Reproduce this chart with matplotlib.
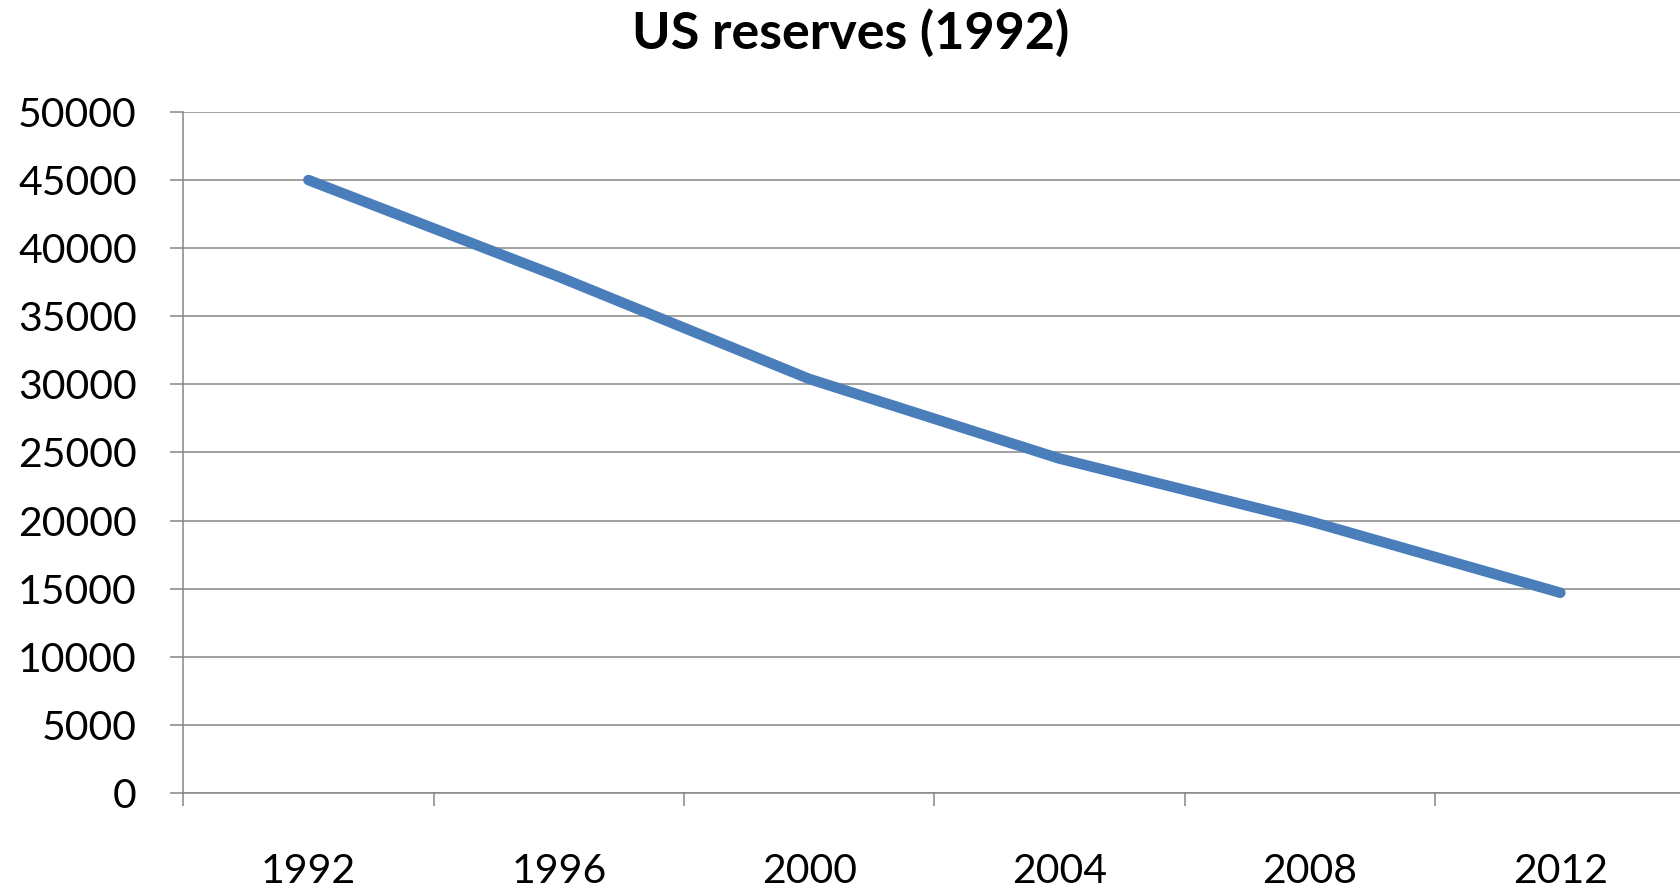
import numpy as np
import matplotlib
matplotlib.use('Agg')
import matplotlib.pyplot as plt
from matplotlib.ticker import FixedLocator

plt.rcParams['font.family'] = ['Lato', 'DejaVu Sans']

years = ['1992', '1996', '2000', '2004', '2008', '2012']
reserves = [45000, 37900, 30400, 24550, 19950, 14700]
yticks = [0, 5000, 10000, 15000, 20000, 25000, 30000, 35000, 40000, 45000, 50000]

GRID = '#868686'
BLUE = '#4a7ebb'

fig = plt.figure(figsize=(16.81, 8.90), dpi=100)
ax = fig.add_axes([0.1090, 0.1090, 0.8937, 0.7652])

x = np.arange(len(years))
ax.plot(x, reserves, color=BLUE, lw=7.6, solid_capstyle='round',
        solid_joinstyle='round', zorder=3)

ax.set_xlim(-0.5, len(years) - 0.5)
ax.set_ylim(0, 50000)

# y axis: gray gridlines and outward ticks
ax.set_yticks(yticks)
ax.set_yticklabels([str(v) for v in yticks], fontsize=29.5)
ax.yaxis.grid(True, color=GRID, lw=1.1)
ax.tick_params(axis='y', length=9.4, width=1.1, color=GRID, pad=24)

# x axis: labels at category centres, ticks on category borders
ax.set_xticks(x)
ax.set_xticklabels(years, fontsize=29.5)
ax.tick_params(axis='x', which='major', length=0, pad=43)
ax.xaxis.set_minor_locator(FixedLocator(np.arange(-0.5, len(years), 1.0)))
ax.tick_params(axis='x', which='minor', length=9.4, width=1.1, color=GRID)

for s in ['top', 'right']:
    ax.spines[s].set_visible(False)
for s in ['left', 'bottom']:
    ax.spines[s].set_color(GRID)
    ax.spines[s].set_linewidth(1.1)
ax.set_axisbelow(True)

fig.text(0.506, 0.962, 'US reserves (1992)', ha='center', va='center',
         fontsize=37.5, fontweight='bold')

fig.savefig('out.png', dpi=100, facecolor='white')
